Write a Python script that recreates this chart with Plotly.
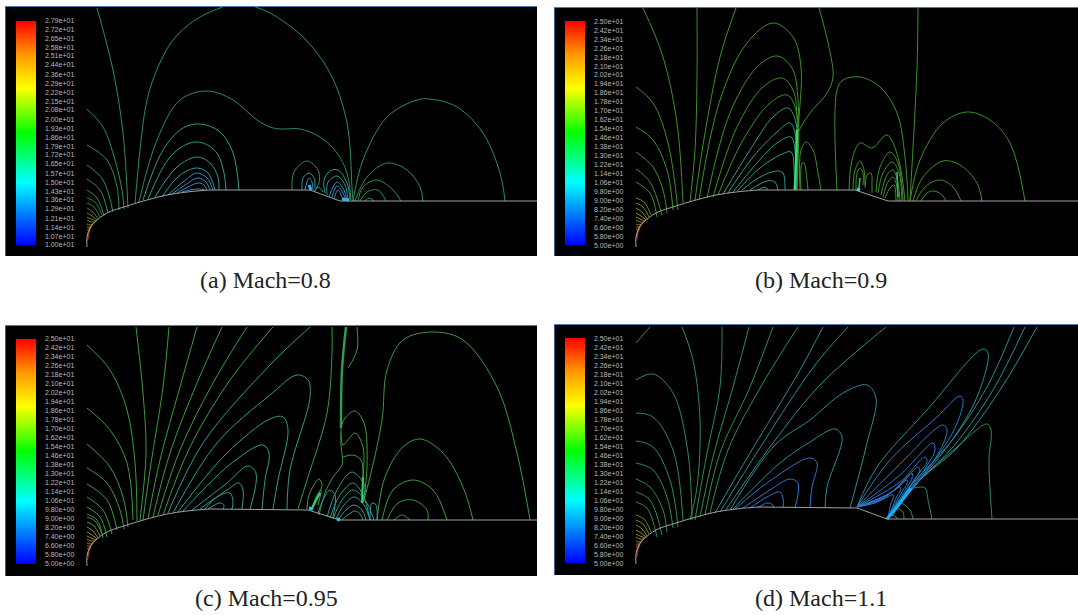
import plotly.graph_objects as go

W, H = 1078, 615

LABELS_A = ["2.79e+01","2.72e+01","2.65e+01","2.58e+01","2.51e+01","2.44e+01","2.36e+01","2.29e+01","2.22e+01",
            "2.15e+01","2.08e+01","2.00e+01","1.93e+01","1.86e+01","1.79e+01","1.72e+01","1.65e+01","1.57e+01",
            "1.50e+01","1.43e+01","1.36e+01","1.29e+01","1.21e+01","1.14e+01","1.07e+01","1.00e+01"]
LABELS_B = ["2.50e+01","2.42e+01","2.34e+01","2.26e+01","2.18e+01","2.10e+01","2.02e+01","1.94e+01","1.86e+01",
            "1.78e+01","1.70e+01","1.62e+01","1.54e+01","1.46e+01","1.38e+01","1.30e+01","1.22e+01","1.14e+01",
            "1.06e+01","9.80e+00","9.00e+00","8.20e+00","7.40e+00","6.60e+00","5.80e+00","5.00e+00"]
CAPTIONS = ["(a) Mach=0.8", "(b) Mach=0.9", "(c) Mach=0.95", "(d) Mach=1.1"]

# wall profile, relative to the leading point of the body
WALL_DX = [0, 0, 3, 8, 20, 40, 60, 80, 100, 122]
WALL_DY = [0, -10, -19, -25, -34, -41, -47, -52, -55, -57]

# small arcs crowded round the nose, relative to the leading point
FAN_DX = [[0, 8, 15], [0, 7, 13], [0, 6, 11], [0, 5, 10], [0, 4, 9], [0, 4, 8],
          [0, 3, 7], [0, 3, 6], [0, 2, 5], [0, 2, 4], [0, 1, 3], [0, 1, 2]]
FAN_DY = [[-49, -45, -32], [-44, -40, -30], [-39, -35, -28], [-34, -31, -27], [-30, -28, -26], [-27, -25, -25],
          [-23, -22, -24], [-20, -20, -23], [-17, -18, -22], [-13, -15, -20], [-10, -12, -18], [-6, -8, -14]]

# ---------- (a) Mach 0.8 ----------
A_OUTER = [
    [(97,8),(113,70),(123,133),(128,208)],
    [(135,204),(140,150),(147,100),(158,67),(173,40),(195,20),(220,8),(240,2),(258,8),(270,13),(303,37),(330,73),(347,123),(352,187),(353,201)],
    [(87,109),(103,127),(115,160),(122,190),(124,209)],
    [(87,145),(107,160),(117,187),(119,210)],
    [(87,165),(103,180),(113,212)],
    [(87,179),(100,190),(108,213)],
    [(87,190),(97,198),(104,216)],
    [(139,202),(157,140),(180,100),(207,91),(233,100),(257,120),(270,127),(280,129),(300,129),(320,137),(337,153),(347,173),(351,200)],
    [(353,201),(363,160),(387,117),(417,100),(430,99),(457,107),(483,133),(500,173),(505,201)],
    [(355,201),(367,177),(387,163),(407,170),(420,187),(423,201)],
    [(358,201),(363,187),(377,180),(393,190),(401,201)],
    [(360,201),(367,192),(378,190),(386,201)],
    [(365,201),(369,198),(374,201)],
    [(292,190),(294,172),(307,161),(318,170),(319,183),(314,191)],
]
A_TEAL = [
    [(143,200),(163,150),(183,128),(200,124),(220,132),(233,153),(239,190)],
    [(148,199),(170,157),(190,143),(203,143),(217,153),(224,173),(226,190)],
    [(155,197),(177,167),(197,157),(210,163),(218,177),(219,190)],
    [(162,197),(180,175),(197,168),(208,173),(215,190)],
    [(302,190),(303,178),(309,173),(314,178),(315,188)],
    [(315,191),(318,187),(323,192)],
    [(325,193),(324,180),(330,171),(338,170),(347,183),(350,200)],
    [(327,195),(328,182),(337,176),(345,185),(348,201)],
]
A_BLUE = [
    [(168,195),(183,182),(197,173),(207,178),(213,190)],
    [(172,194),(185,185),(198,178),(206,182),(210,190)],
    [(177,193),(188,187),(198,183),(204,185),(207,190)],
    [(182,192),(190,190),(199,189),(205,190)],
    [(305,190),(307,182),(309,178),(312,182),(313,190)],
    [(329,197),(337,182),(344,190),(347,201)],
    [(332,197),(337,186),(343,193),(346,201)],
    [(334,199),(338,190),(342,197),(344,201)],
]
A_SPOT = [[(309,185),(311,190)], [(342,199),(349,200)]]

# ---------- (b) Mach 0.9 ----------
B_OUTER = [
    [(643,8),(663,57),(677,123),(683,203)],
    [(697,8),(697,80),(695,150),(690,202)],
    [(736,8),(720,57),(705,133),(695,200)],
    [(636,87),(653,103),(668,143),(678,210)],
    [(636,127),(653,140),(667,170),(673,210)],
    [(636,152),(653,167),(663,190),(667,213)],
    [(636,169),(650,182),(662,215)],
    [(636,182),(650,193),(657,217)],
    [(699,200),(720,100),(747,43),(773,23),(793,37),(801,67),(798,133),(797,190)],
    [(707,198),(730,113),(757,67),(777,56),(792,68),(798,100),(797,190)],
    [(713,197),(737,127),(763,87),(782,78),(793,90),(797,117),(796,190)],
    [(718,195),(743,140),(770,103),(787,95),(796,110),(796,190)],
    [(797,135),(802,125),(810,113),(827,93),(833,77),(828,43),(819,8)],
    [(800,190),(801,150),(806,142),(813,150),(818,173),(821,190)],
    [(801,190),(802,163),(804,163),(807,180),(808,190)],
    [(837,190),(837,90),(843,80),(860,77),(880,87),(897,113),(905,157),(908,201)],
    [(918,8),(917,67),(910,200)],
    [(910,201),(920,160),(943,123),(967,112),(990,120),(1010,143),(1025,201)],
    [(913,201),(923,177),(943,161),(960,165),(977,183),(982,201)],
    [(916,201),(925,187),(940,180),(953,187),(961,201)],
    [(921,201),(927,193),(934,191),(942,195),(946,201)],
    [(849,190),(852,160),(860,143),(872,148),(887,135),(898,157),(905,201)],
    [(876,192),(880,167),(890,152),(898,163),(903,200)],
    [(878,193),(883,173),(892,162),(899,173),(902,201)],
    [(881,195),(887,175),(893,170),(898,183),(900,201)],
    [(883,197),(888,182),(893,177),(897,187),(898,201)],
    [(885,198),(890,188),(894,185),(896,201)],
    [(853,190),(855,170),(860,161),(864,170),(865,185)],
    [(856,190),(857,173),(860,168),(863,173),(863,185)],
    [(865,188),(867,175),(871,173),(872,187),(872,193)],
]
B_TEAL = [
    [(723,194),(750,150),(773,117),(788,108),(796,123),(795,190)],
    [(728,193),(753,157),(777,132),(790,123),(795,133),(795,190)],
    [(733,192),(757,163),(777,143),(791,137),(795,150),(795,190)],
    [(737,191),(760,168),(780,155),(791,152),(794,167),(794,190)],
    [(742,190),(760,177),(777,171),(783,173),(785,190)],
    [(750,190),(767,181),(775,182),(778,190)],
    [(758,190),(765,187),(768,190)],
]
B_STREAK = [[(797,130),(796,160),(795,190)]]
B_STREAK_SOFT = [[(897,172),(898,197)], [(860,178),(859,188)]]
B_SPOT = [[(857,189),(860,190)]]

# ---------- (c) Mach 0.95 ----------
C_OUTER = [
    [(87,345),(110,370),(127,410),(135,463),(137,521)],
    [(136,327),(143,393),(146,453),(140,520)],
    [(87,408),(110,430),(127,463),(133,520)],
    [(87,444),(110,467),(123,497),(128,527)],
    [(87,468),(107,483),(120,510),(124,529)],
    [(87,484),(107,500),(117,530)],
    [(87,497),(103,510),(112,534)],
    [(87,507),(100,517),(107,537)],
    [(87,514),(97,520),(103,538)],
    [(169,327),(163,387),(150,470),(143,520)],
    [(197,327),(180,387),(160,460),(148,519)],
    [(222,327),(197,383),(170,453),(153,517)],
    [(247,327),(213,383),(180,450),(158,515)],
    [(273,327),(230,380),(190,447),(163,515)],
    [(332,327),(332,353),(327,413),(307,480),(298,509)],
    [(357,327),(357,350),(348,368)],
    [(341,427),(345,418),(355,411),(364,423),(367,467),(363,503)],
    [(341,433),(343,445),(355,433),(363,447),(363,477)],
    [(343,457),(353,455),(361,460),(363,477)],
    [(363,503),(370,477),(382,420),(387,370),(403,340),(433,332),(463,340),(497,387),(517,453),(530,520)],
    [(377,520),(385,477),(403,447),(420,439),(443,453),(463,487),(473,520)],
    [(382,520),(393,490),(413,480),(433,490),(447,520)],
    [(387,520),(398,503),(413,500),(427,510),(428,520)],
    [(394,520),(402,515),(410,520)],
    [(341,428),(341,445),(342,465),(333,477),(325,493),(319,515)],
    [(307,509),(309,495),(319,479),(322,485),(318,495),(313,508)],
]
C_TEAL = [
    [(168,513),(203,443),(270,365),(310,327)],
    [(173,513),(217,443),(270,395),(297,375),(308,380),(310,397),(290,470),(287,509)],
    [(178,512),(227,453),(270,419),(283,417),(288,430),(278,480),(273,509)],
    [(183,511),(233,462),(263,445),(269,453),(265,480),(262,509)],
    [(192,510),(227,483),(248,466),(256,473),(250,509)],
    [(200,509),(227,490),(239,483),(243,490),(242,509)],
    [(205,509),(217,497),(230,493),(233,502),(232,509)],
    [(208,509),(220,503),(224,505),(223,509)],
    [(327,517),(337,490),(352,472),(365,487),(363,500)],
    [(330,518),(340,495),(353,483),(363,495),(370,520)],
    [(333,519),(342,500),(353,490),(365,500),(374,520)],
    [(336,519),(344,505),(354,497),(364,505),(370,520)],
    [(338,520),(346,510),(354,505),(362,510),(366,520)],
    [(342,520),(349,514),(355,511),(360,514),(363,520)],
    [(312,509),(316,497),(321,490),(318,505)],
    [(318,513),(323,500),(330,490),(335,495),(333,517)],
    [(370,520),(372,503),(376,505),(377,520)],
]
C_STREAK = [[(346,327),(342,370),(341,428)]]
C_STREAK_BRIGHT = [[(363,477),(362,503)], [(312,508),(320,493)]]
C_SPOT = [[(309,508),(313,509)], [(337,519),(340,520)]]

# ---------- (d) Mach 1.1 ----------
D_OUTER = [
    [(636,343),(650,327)],
    [(636,380),(653,374),(673,393),(688,453),(692,520)],
    [(682,327),(693,360),(700,420),(697,487),(690,520)],
    [(636,413),(653,417),(673,450),(683,520)],
    [(636,441),(653,447),(670,480),(678,527)],
    [(636,463),(653,470),(667,497),(673,528)],
    [(636,479),(650,487),(663,510),(667,532)],
    [(636,492),(650,500),(662,535)],
    [(636,502),(647,508),(657,537)],
    [(722,327),(720,387),(707,453),(695,520)],
    [(749,327),(733,387),(713,457),(700,517)],
    [(773,327),(750,387),(720,453),(705,515)],
    [(798,327),(763,383),(728,450),(710,513)],
    [(920,480),(957,447),(987,424),(991,430),(989,460),(992,519)],
    [(913,488),(925,488),(928,500),(932,519)],
    [(902,503),(910,510),(913,519)],
    [(897,508),(903,512),(904,519)],
    [(892,515),(896,517),(897,519)],
]
D_TEAL = [
    [(715,513),(750,453),(800,370),(823,327)],
    [(720,512),(763,443),(815,365),(848,327)],
    [(725,511),(773,443),(820,385),(886,327)],
    [(730,510),(775,445),(810,420),(843,393),(867,385),(876,398),(867,443),(850,508)],
    [(733,509),(780,463),(810,442),(835,429),(842,437),(827,487),(825,508)],
    [(1014,327),(987,387),(950,443),(913,483),(888,518)],
    [(1025,327),(993,390),(953,447),(917,483),(890,517)],
    [(1037,327),(1000,390),(957,448),(920,480),(892,516)],
    [(857,507),(877,467),(927,410),(983,349),(988,353),(977,397),(950,443),(913,488),(887,519)],
]
D_BLUE = [
    [(735,509),(767,483),(810,458),(817,463),(812,487),(810,508)],
    [(743,508),(770,490),(790,479),(798,483),(795,508)],
    [(750,508),(767,497),(780,492),(783,498),(783,508)],
    [(758,508),(767,503),(773,505),(773,508)],
    [(857,507),(890,460),(937,417),(960,396),(963,400),(955,428),(925,473),(887,519)],
    [(857,507),(897,467),(943,425),(947,430),(938,454),(915,484),(887,519)],
    [(857,507),(900,475),(933,443),(935,450),(928,464),(908,492),(887,519)],
    [(857,507),(900,482),(925,457),(927,462),(920,472),(902,499),(887,519)],
    [(857,507),(895,490),(918,467),(920,470),(914,480),(898,503),(887,519)],
    [(857,507),(890,493),(912,473),(912,478),(908,486),(895,506),(887,519)],
    [(857,507),(885,497),(907,480),(907,484),(903,490),(893,508),(887,519)],
    [(857,507),(880,500),(900,487),(900,491),(897,496),(891,511),(887,519)],
    [(857,507),(875,503),(893,495),(893,499),(891,503),(889,513),(887,519)],
]
D_STREAK = [[(887,519),(900,503),(911,488)]]

COLORSCALE = [[0, "#0000ff"], [0.28, "#00ffff"], [0.5, "#00ff00"], [0.7, "#ffff00"], [0.85, "#ff9900"], [1, "#ff0000"]]
FAN_COLORS_GREEN = ["#3f9a3a", "#4f9f30", "#6aa52c", "#7fa82c", "#96a82c", "#a8a02c",
                    "#b8962c", "#c08a2c", "#c47a2c", "#c8642c", "#cc4a2c", "#c83a30"]
FAN_COLORS_YELLOW = ["#7aa82a", "#96b02a", "#a8b02a", "#b8b02a", "#c4a82a", "#cca02a",
                     "#d0902a", "#d4802a", "#d4702a", "#d0582a", "#cc402a", "#c83030"]

PANELS = [
    dict(dom=(6, 537, 7, 256), bar=(21, 245), lead=(87, 247), ramp=[(310, 190), (340, 201), (537, 201)],
         labels=LABELS_A, cap=(265, 280), fan=FAN_COLORS_GREEN,
         groups=[(A_OUTER, "#2c8c58", 1), (A_TEAL, "#2f9a8c", 1), (A_BLUE, "#3a8cc0", 1), (A_SPOT, "#22b8f0", 3)]),
    dict(dom=(555, 1078, 8, 256), bar=(21.5, 245), lead=(636, 247), ramp=[(855, 190), (888, 201), (1078, 201)],
         labels=LABELS_B, cap=(821, 280), fan=FAN_COLORS_YELLOW,
         groups=[(B_OUTER, "#3d9028", 1), (B_TEAL, "#2f9a80", 1), (B_STREAK, "#30e070", 2.2),
                 (B_STREAK_SOFT, "#2fb868", 1.6), (B_SPOT, "#20e0e0", 3)]),
    dict(dom=(6, 537, 326, 576), bar=(339, 563.5), lead=(87, 566), ramp=[(308, 510), (340, 520), (537, 520)],
         labels=LABELS_B, cap=(266, 598), fan=FAN_COLORS_YELLOW,
         groups=[(C_OUTER, "#3a9a40", 1), (C_TEAL, "#2f9a90", 1), (C_STREAK, "#2e9e55", 2.4),
                 (C_STREAK_BRIGHT, "#34d060", 2), (C_SPOT, "#20d0f0", 3)]),
    dict(dom=(555, 1078, 325, 575), bar=(338.5, 563), lead=(636, 564), ramp=[(857, 508), (887, 519), (1078, 519)],
         labels=LABELS_B, cap=(821, 598), fan=FAN_COLORS_YELLOW,
         groups=[(D_OUTER, "#2c8c50", 1), (D_TEAL, "#2a8c90", 1), (D_BLUE, "#2878c8", 1), (D_STREAK, "#10b0f0", 3)]),
]

fig = go.Figure()
layout = dict(width=W, height=H, margin=dict(l=0, r=0, t=0, b=0, pad=0), paper_bgcolor="white",
              plot_bgcolor="black", showlegend=False, hovermode=False)
annotations = []

for i, p in enumerate(PANELS):
    n = "" if i == 0 else str(i + 1)
    xa, ya = "x" + n, "y" + n
    x0, x1, y0, y1 = p["dom"]
    layout["xaxis" + n] = dict(domain=[x0 / W, x1 / W], range=[x0, x1], side="top", anchor=ya, showgrid=False,
                               zeroline=False, showticklabels=False, ticks="", showline=True,
                               linecolor="#4f7cb0", linewidth=1)
    layout["yaxis" + n] = dict(domain=[1 - y1 / H, 1 - y0 / H], range=[y1, y0], anchor=xa, showgrid=False,
                               zeroline=False, showticklabels=False, ticks="", showline=True,
                               linecolor="#3c5f88", linewidth=1)

    lx, ly = p["lead"]
    for dxs, dys, col in zip(FAN_DX, FAN_DY, p["fan"]):
        fig.add_trace(go.Scatter(x=[lx + v for v in dxs], y=[ly + v for v in dys], mode="lines", xaxis=xa, yaxis=ya,
                                 line=dict(color=col, width=0.8, shape="spline"), hoverinfo="skip"))
    for curves, col, wid in p["groups"]:
        for c in curves:
            fig.add_trace(go.Scatter(x=[q[0] for q in c], y=[q[1] for q in c], mode="lines", xaxis=xa, yaxis=ya,
                                     line=dict(color=col, width=wid, shape="spline", smoothing=1.0), hoverinfo="skip"))
    # wall: smooth nose, straight flat and ramp
    fig.add_trace(go.Scatter(x=[lx + v for v in WALL_DX], y=[ly + v for v in WALL_DY], mode="lines", xaxis=xa, yaxis=ya,
                             line=dict(color="#a0a0a0", width=1, shape="spline", smoothing=1.0), hoverinfo="skip"))
    fig.add_trace(go.Scatter(x=[lx + WALL_DX[-1]] + [q[0] for q in p["ramp"]],
                             y=[ly + WALL_DY[-1]] + [q[1] for q in p["ramp"]], mode="lines", xaxis=xa, yaxis=ya,
                             line=dict(color="#a0a0a0", width=1), hoverinfo="skip"))
    vals = [float(s) for s in p["labels"]]
    b0, b1 = p["bar"]
    fig.add_trace(go.Scatter(
        x=[x0], y=[y0], mode="markers", xaxis=xa, yaxis=ya, hoverinfo="skip", opacity=0,
        marker=dict(size=1, color=[vals[-1]], cmin=vals[-1], cmax=vals[0], colorscale=COLORSCALE, showscale=True,
                    colorbar=dict(x=(x0 + 10) / W, xanchor="left", xpad=0, ypad=0,
                                  y=1 - (b0 + b1) / 2 / H, yanchor="middle", len=(b1 - b0) / H, lenmode="fraction",
                                  thickness=20, thicknessmode="pixels", outlinewidth=0, borderwidth=0,
                                  tickmode="array", tickvals=vals, ticktext=p["labels"], ticks="outside", ticklen=8,
                                  tickcolor="rgba(0,0,0,0)", tickwidth=1,
                                  tickfont=dict(size=7, color="#b8b8b8", family="Liberation Sans"))),
    ))
    annotations.append(dict(x=p["cap"][0] / W, y=1 - p["cap"][1] / H, xref="paper", yref="paper", text=CAPTIONS[i],
                            showarrow=False, xanchor="center", yanchor="middle",
                            font=dict(size=24, color="#222222", family="Liberation Serif")))

layout["annotations"] = annotations
fig.update_layout(**layout)
fig.write_html("out.html", post_script="document.body.style.margin='0';document.body.style.overflow='hidden';",
               config={"displayModeBar": False})
